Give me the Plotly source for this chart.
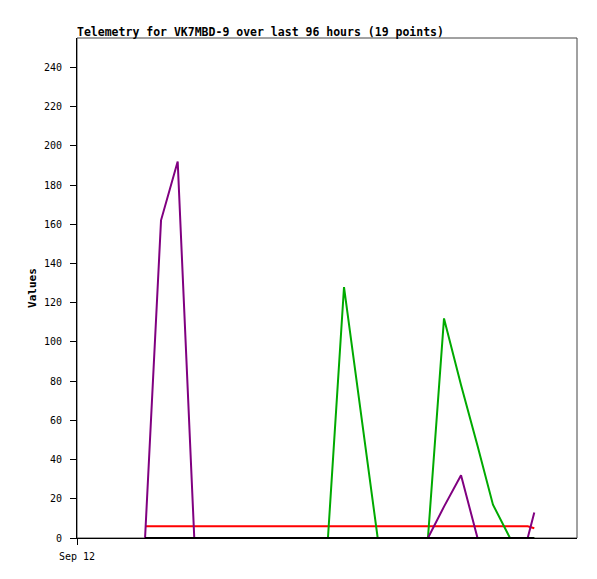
import plotly.graph_objects as go

times = [
    "2023-09-12 13:04", "2023-09-12 16:08", "2023-09-12 19:20", "2023-09-12 22:31",
    "2023-09-13 07:18", "2023-09-13 16:54", "2023-09-14 00:11", "2023-09-14 03:16",
    "2023-09-14 09:44", "2023-09-14 13:04", "2023-09-14 16:19", "2023-09-14 19:23",
    "2023-09-14 22:28", "2023-09-15 01:44", "2023-09-15 04:54", "2023-09-15 07:52",
    "2023-09-15 11:08", "2023-09-15 14:32", "2023-09-15 15:48",
]
purple_vals = [0, 162, 192, 0, 0, 0, 0, 0, 0, 0, 0, 0, 16, 32, 0, 0, 0, 0, 13]
green_vals = [0, 0, 0, 0, 0, 0, 0, 128, 0, 0, 0, 0, 112, 78, 47, 17, 0, 0, 0]
red_vals = [6] * 18 + [5]
black_vals = [0] * 19

y_ticks = [0, 20, 40, 60, 80, 100, 120, 140, 160, 180, 200, 220, 240]
x_tick_vals = ["2023-09-12 00:00"]
x_tick_text = ["Sep 12"]

FONT = "DejaVu Sans Mono"
W, H = 589, 571

fig = go.Figure()
for vals, col in [(red_vals, "#ff0000"), (green_vals, "#00aa00"),
                  (purple_vals, "#800080"), (black_vals, "#000000")]:
    fig.add_trace(go.Scatter(x=times, y=vals, mode="lines",
                             line=dict(color=col, width=2), showlegend=False))

fig.update_layout(
    width=W, height=H,
    margin=dict(l=69, r=20, t=30, b=41),
    paper_bgcolor="white", plot_bgcolor="white",
    title=dict(text="<b>Telemetry for VK7MBD-9 over last 96 hours (19 points)</b>",
               x=69 / W, xanchor="left", xref="container",
               y=1 - 24 / H, yanchor="middle", yref="container",
               font=dict(family=FONT, size=11.5, color="black")),
    font=dict(family=FONT, size=10, color="black"),
    shapes=[dict(type="rect", xref="paper", yref="paper", x0=0, x1=1, y0=0, y1=1,
                 line=dict(color="#444444", width=1), layer="below")],
)
fig.update_xaxes(type="date", range=["2023-09-12 00:00", "2023-09-16 00:00"],
                 tickvals=x_tick_vals, ticktext=x_tick_text,
                 ticks="outside", ticklen=6, tickcolor="black", showgrid=False,
                 zeroline=False, showline=True, linecolor="black", linewidth=1,
                 ticklabelstandoff=3,
                 tickfont=dict(family=FONT, size=10, color="black"))
fig.update_yaxes(range=[0, 255], tickvals=y_ticks, ticks="outside", ticklen=6,
                 tickcolor="black", showgrid=False, zeroline=False, showline=True,
                 linecolor="black", linewidth=1, ticklabelstandoff=6,
                 title=dict(text="<b>Values</b>", standoff=5,
                            font=dict(family=FONT, size=11, color="black")),
                 tickfont=dict(family=FONT, size=10, color="black"))

fig.write_html("out.html")
